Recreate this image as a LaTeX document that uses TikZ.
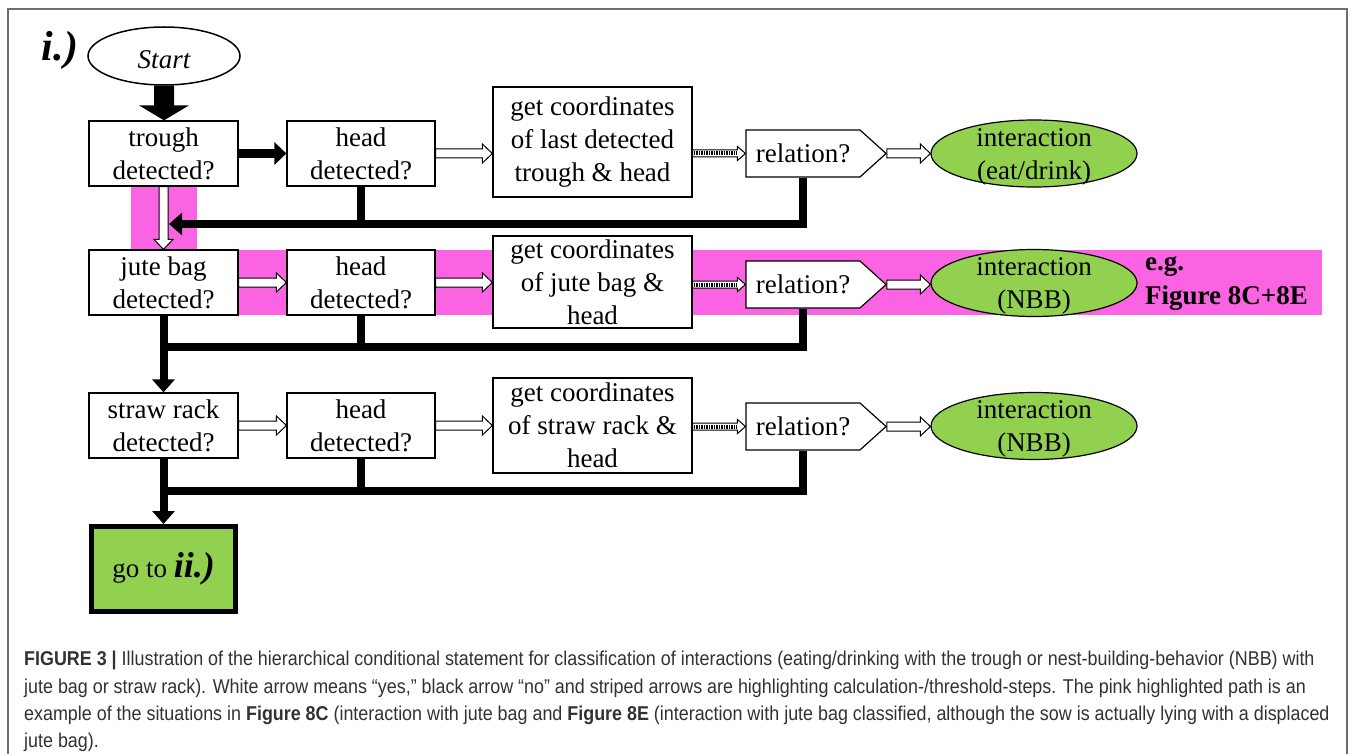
\documentclass[tikz,border=0pt]{standalone}
\usepackage{fontspec}
\setmainfont{Liberation Serif}
\newfontfamily\capfont[FakeStretch=0.895]{Liberation Sans}
\usetikzlibrary{arrows.meta,shapes.geometric,shapes.symbols,calc}
\definecolor{pinkhl}{RGB}{250,100,226}
\definecolor{grn}{RGB}{146,208,80}
\definecolor{captxt}{RGB}{50,50,50}
\definecolor{framegray}{RGB}{110,110,110}
\newcommand\lowtxt[2]{\raisebox{-#1}[0pt][0pt]{\begin{tabular}{@{}c@{}}#2\end{tabular}}}
\tikzset{
 every node/.style={font=\fontsize{27}{33}\selectfont, inner sep=0pt},
 box/.style={draw, line width=1.2pt, fill=white, minimum width=149pt, minimum height=65pt, align=center},
 cbox/.style={draw, line width=1.2pt, fill=white, minimum width=199pt, align=center},
 rel/.style={signal, signal to=east, signal pointer angle=84, draw, line width=1.2pt, fill=white, minimum width=140pt, minimum height=47pt},
 inter/.style={ellipse, draw, line width=1.2pt, fill=grn, minimum width=206pt, minimum height=67pt},
 bline/.style={line width=8pt, line join=miter, line cap=butt},
 bhead/.style={-{Triangle[length=13pt 0 0, width=22pt 0 0]}},
 warrow/.style={draw=black, fill=white, line width=1pt},
 capline/.style={anchor=base west, font=\capfont\fontsize{20}{20}\selectfont, text=captxt},
}
\newcommand\wArrowH[2]{\filldraw[warrow] let \p1=(#1), \p2=(#2) in (\x1,\y1+4.5pt) -- (\x2-10pt,\y1+4.5pt) -- (\x2-10pt,\y1+9.5pt) -- (\x2,\y1) -- (\x2-10pt,\y1-9.5pt) -- (\x2-10pt,\y1-4.5pt) -- (\x1,\y1-4.5pt) -- cycle;}
\newcommand\sArrowH[2]{\filldraw[warrow] let \p1=(#1), \p2=(#2) in (\x1,\y1+3.5pt) -- (\x2-8pt,\y1+3.5pt) -- (\x2-8pt,\y1+7pt) -- (\x2,\y1) -- (\x2-8pt,\y1-7pt) -- (\x2-8pt,\y1-3.5pt) -- (\x1,\y1-3.5pt) -- cycle;
 \draw[line width=4pt, dash pattern=on 1.4pt off 1.1pt] let \p1=(#1), \p2=(#2) in (\x1+1pt,\y1) -- (\x2-8pt,\y1);}
\newcommand\wArrowV[2]{\filldraw[warrow] let \p1=(#1), \p2=(#2) in (\x1-4.5pt,\y1) -- (\x1-4.5pt,\y2+10pt) -- (\x1-9.5pt,\y2+10pt) -- (\x1,\y2) -- (\x1+9.5pt,\y2+10pt) -- (\x1+4.5pt,\y2+10pt) -- (\x1+4.5pt,\y1) -- cycle;}
\begin{document}
\begin{tikzpicture}[x=1pt,y=-1pt]
\useasboundingbox (0,0) rectangle (1357,754);
\fill[white] (0,0) rectangle (1357,754);
% frame
\draw[framegray, line width=1.5pt] (8,754) -- (8,9) -- (1347,9) -- (1347,754);
% pink highlight
\fill[pinkhl] (131,186) rectangle (197,251);
\fill[pinkhl] (238,250) rectangle (1322,315);
% label and start
\node[font=\fontsize{42}{42}\selectfont\bfseries\itshape] (lab) at (60,50) {i.)};
\node[ellipse, draw, line width=1.5pt, minimum width=152pt, minimum height=58pt, font=\fontsize{27}{33}\selectfont\itshape] (start) at (164,56) {\raisebox{-4pt}[\height][\depth]{Start}};
% row 1
\node[box] (trough) at (163.5,153.5) {trough\\detected?};
\node[box, minimum width=148pt] (head1) at (361,153.5) {head\\detected?};
\node[cbox, minimum height=110pt] (coord1) at (592.5,142) {get coordinates\\of last detected\\trough \& head};
\node[rel] (rel1) at (803,153.5) {relation?};
\node[inter] (int1) at (1034,153.5) {\lowtxt{9pt}{interaction\\(eat/drink)}};
% row 2
\node[box] (jute) at (163.5,282.5) {jute bag\\detected?};
\node[box, minimum width=148pt] (head2) at (361,282.5) {head\\detected?};
\node[cbox, minimum height=92pt] (coord2) at (592.5,282) {get coordinates\\of jute bag \&\\head};
\node[rel] (rel2) at (803,284.5) {relation?};
\node[inter] (int2) at (1034,283) {\lowtxt{9pt}{interaction\\(NBB)}};
\node[anchor=base west, font=\fontsize{27}{33}\selectfont\bfseries] (eg) at (1145,270) {e.g.};
\node[anchor=base west, font=\fontsize{27}{33}\selectfont\bfseries] (fig) at (1145,304) {Figure 8C+8E};
% row 3
\node[box] (straw) at (163.5,425.5) {straw rack\\detected?};
\node[box, minimum width=148pt] (head3) at (361,425.5) {head\\detected?};
\node[cbox, minimum height=95pt] (coord3) at (592.5,425.5) {get coordinates\\of straw rack \&\\head};
\node[rel] (rel3) at (803,426.5) {relation?};
\node[inter] (int3) at (1034,426) {\lowtxt{9pt}{interaction\\(NBB)}};
% go to
\node[draw, line width=5pt, fill=grn, minimum width=144pt, minimum height=85pt] (goto) at (163.5,569) {go to {\fontsize{36}{36}\selectfont\bfseries\itshape ii.)}};
% start arrow
\fill let \p1=(start.south), \p2=(trough.north) in (\x1-10pt,\y1) -- (\x1-10pt,\y2+15pt) -- (\x1-25pt,\y2+15pt) -- (\x1,\y2) -- (\x1+25pt,\y2+15pt) -- (\x1+10pt,\y2+15pt) -- (\x1+10pt,\y1) -- cycle;
% row 1 arrows
\draw[line width=9pt, -{Triangle[length=12pt 0 0, width=22pt 0 0]}] (trough.east) -- (head1.west);
\wArrowH{head1.east}{coord1.west |- head1.east}
\sArrowH{coord1.east |- rel1.west}{rel1.west}
\wArrowH{rel1.east}{int1.west}
\wArrowV{trough.south}{jute.north}
\coordinate (f1) at (169,224);
\draw[bline, bhead] (rel1.south) |- (f1);
\draw[bline] (head1.south) -- (head1.south |- f1);
% row 2 arrows
\wArrowH{jute.east}{head2.west}
\wArrowH{head2.east}{coord2.west |- head2.east}
\sArrowH{coord2.east |- rel2.west}{rel2.west}
\wArrowH{rel2.east}{int2.west}
\coordinate (f2) at (164,347);
\draw[bline, bhead] (jute.south) -- (straw.north);
\draw[bline] (rel2.south) |- (f2);
\draw[bline] (head2.south) -- (head2.south |- f2);
% row 3 arrows
\wArrowH{straw.east}{head3.west}
\wArrowH{head3.east}{coord3.west |- head3.east}
\sArrowH{coord3.east |- rel3.west}{rel3.west}
\wArrowH{rel3.east}{int3.west}
\coordinate (f3) at (164,491);
\draw[bline, bhead] (straw.south) -- (goto.north);
\draw[bline] (rel3.south) |- (f3);
\draw[bline] (head3.south) -- (head3.south |- f3);
% caption
\node[capline] (c1) at (24,665) {{\bfseries FIGURE 3 |} Illustration of the hierarchical conditional statement for classification of interactions (eating/drinking with the trough or nest-building-behavior (NBB) with};
\node[capline] (c2) at (24,693) {jute bag or straw rack). White arrow means “yes,” black arrow “no” and striped arrows are highlighting calculation-/threshold-steps. The pink highlighted path is an};
\node[capline] (c3) at (24,720) {example of the situations in {\bfseries Figure 8C} (interaction with jute bag and {\bfseries Figure 8E} (interaction with jute bag classified, although the sow is actually lying with a displaced};
\node[capline] (c4) at (24,747) {jute bag).};
\end{tikzpicture}
\end{document}
